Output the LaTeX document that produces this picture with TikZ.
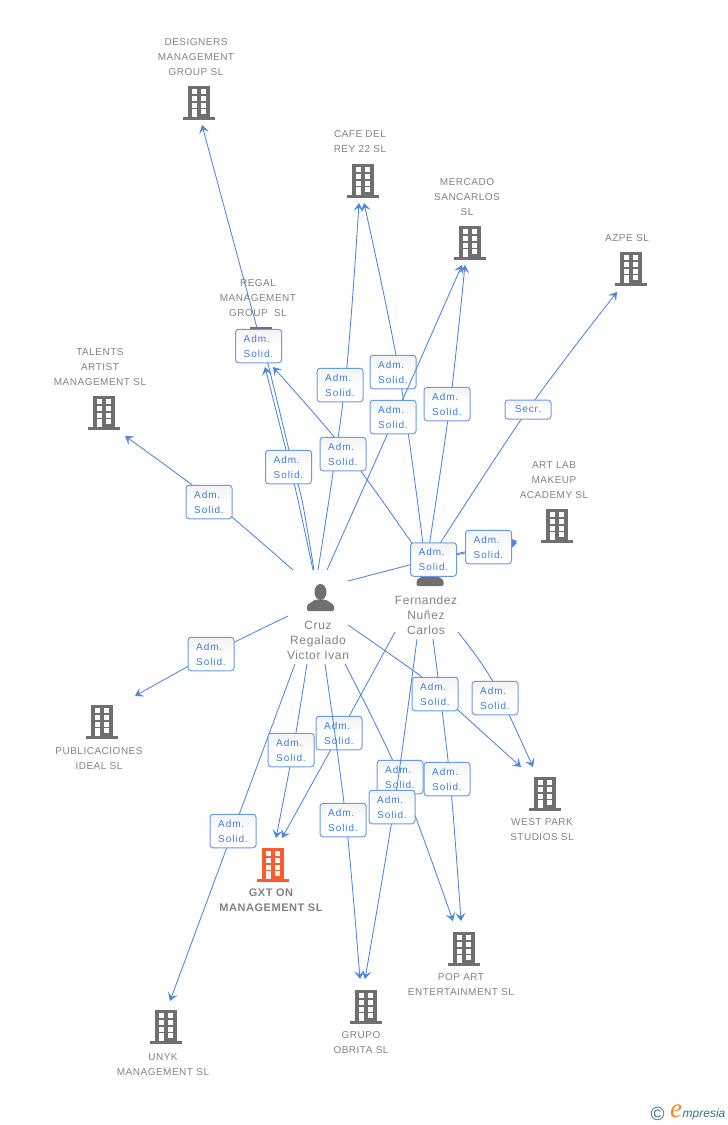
\documentclass[tikz,border=0pt]{standalone}
\usepackage{fontspec}
\setmainfont{Liberation Sans}
\newfontfamily\lsf[LetterSpace=5]{Liberation Sans}
\newfontfamily\bsf[LetterSpace=9]{Liberation Sans}
\newfontfamily\logoserif{Liberation Serif}
\usetikzlibrary{arrows.meta}
\definecolor{lnkc}{HTML}{4A86E0}
\definecolor{boxc}{HTML}{6A9BE6}
\definecolor{boxt}{HTML}{3B7DE0}
\definecolor{txtc}{HTML}{828282}
\definecolor{bldc}{HTML}{6F6F6F}
\definecolor{orng}{HTML}{FF5A2E}
\definecolor{logoo}{HTML}{F58220}
\definecolor{teal}{HTML}{2F7488}
\tikzset{
  x=1pt,y=-1pt,
  lnk/.style={draw=lnkc,line width=.85pt,-{Stealth[length=8pt,width=10pt,inset=3.5pt]}},
  adm/.style={draw=boxc,line width=1pt,rounded corners=3pt,top color=black!5,bottom color=white,middle color=white,
    minimum width=46pt,minimum height=33.5pt,inner sep=0pt,align=left,text=boxt,font=\bsf\fontsize{10}{15}\selectfont},
  lbl/.style={align=center,inner sep=0pt,text=txtc,font=\lsf\fontsize{10}{15}\selectfont},
  plbl/.style={align=center,inner sep=0pt,text=txtc,font=\lsf\fontsize{12}{15}\selectfont},
  mlbl/.style={align=center,inner sep=0pt,text=txtc,font=\lsf\bfseries\fontsize{11}{15}\selectfont},
}
% id, centre x, top y, colour
\newcommand{\bld}[4]{%
  \coordinate (#1) at (#2,#3);
  \fill[#4] ([shift={(-11,0)}]#1) rectangle ([shift={(11,31)}]#1);
  \fill[#4] ([shift={(-16,31)}]#1) rectangle ([shift={(16,34)}]#1);
  \foreach \yy in {3,10,17}{
    \fill[white] ([shift={(-7,\yy)}]#1) rectangle ([shift={(-2,\yy+5)}]#1);
    \fill[white] ([shift={(2,\yy)}]#1) rectangle ([shift={(7,\yy+5)}]#1);
  }
  \fill[white] ([shift={(-7,23)}]#1) rectangle ([shift={(-2,31)}]#1);
  \fill[white] ([shift={(2,23)}]#1) rectangle ([shift={(7,28)}]#1);
}
% id, head centre x, head centre y
\newcommand{\person}[3]{%
  \coordinate (#1) at (#2,#3);
  \fill[bldc] (#1) ellipse[x radius=6pt,y radius=8pt];
  \fill[bldc,rounded corners=1.5pt] ([shift={(-13.5,19)}]#1) -- ([shift={(-13.5,13)}]#1) -- ([shift={(-5,7.5)}]#1) -- ([shift={(5,7.5)}]#1) -- ([shift={(13.5,13)}]#1) -- ([shift={(13.5,19)}]#1) -- cycle;
}
% id, box centre, start, point of the line under the box, tip
\newcommand{\lnkbox}[5]{%
  \coordinate (b#1) at (#2);
  \coordinate (s#1) at (#3);
  \coordinate (w#1) at (#4);
  \coordinate (t#1) at (#5);
  \draw[lnk] plot[smooth,tension=.55] coordinates {(s#1) (w#1) (t#1)};
  \node[adm] (B#1) at (b#1) {Adm.\\Solid.};
}
\begin{document}
\begin{tikzpicture}
\useasboundingbox (0,0) rectangle (728,1125);
% buildings
\bld{designers}{199}{86}{bldc}
\bld{cafe}{363}{164}{bldc}
\bld{mercado}{470}{226}{bldc}
\bld{azpe}{631}{252}{bldc}
\bld{regal}{261}{327}{bldc}
\bld{talents}{104}{396}{bldc}
\bld{artlab}{557}{509}{bldc}
\bld{public}{102}{705}{bldc}
\bld{westpark}{545}{777}{bldc}
\bld{gxt}{273}{848}{orng}
\bld{popart}{464}{932}{bldc}
\bld{grupo}{366}{990}{bldc}
\bld{unyk}{166}{1010}{bldc}
\person{cruz}{320.5}{592}
\person{fern}{430}{567}
% labels
\node[lbl] (Ldes) at (196,57) {DESIGNERS\\MANAGEMENT\\GROUP SL};
\node[lbl] (Lcaf) at (360,141.5) {CAFE DEL\\REY 22 SL};
\node[lbl] (Lmer) at (467,197) {MERCADO\\SANCARLOS\\SL};
\node[lbl] (Lazp) at (627,238) {AZPE SL};
\node[lbl] (Lreg) at (258,298) {REGAL\\MANAGEMENT\\GROUP\ \ SL};
\node[lbl] (Ltal) at (100,367) {TALENTS\\ARTIST\\MANAGEMENT SL};
\node[lbl] (Lart) at (554,480) {ART LAB\\MAKEUP\\ACADEMY SL};
\node[lbl] (Lpub) at (99,758.5) {PUBLICACIONES\\IDEAL SL};
\node[lbl] (Lwes) at (542,829.5) {WEST PARK\\STUDIOS SL};
\node[mlbl] (Lgxt) at (271,900.5) {GXT ON\\MANAGEMENT SL};
\node[lbl] (Lpop) at (461,984.5) {POP ART\\ENTERTAINMENT SL};
\node[lbl] (Lgru) at (361,1042.5) {GRUPO\\OBRITA SL};
\node[lbl] (Luny) at (163,1064.5) {UNYK\\MANAGEMENT SL};
\node[plbl] (Lcru) at (318,640) {Cruz\\Regalado\\Victor Ivan};
\node[plbl] (Lfer) at (426,615) {Fernandez\\Nuñez\\Carlos};
% connectors
\lnkbox{a}{209,502}{293,570}{209,498}{125,436}
% Cruz -> Regal (through box 288,467)
\coordinate (p1) at (313,570); \coordinate (p2) at (298,500); \coordinate (p3) at (286,450); \coordinate (p4) at (265,367);
\draw[lnk] plot[smooth,tension=.4] coordinates {(p1) (p2) (p3) (p4)};
% Cruz -> Designers
\coordinate (q1) at (314,570); \coordinate (q2) at (302,500); \coordinate (q3) at (289,450); \coordinate (q4) at (268,364); \coordinate (q5) at (257,328); \coordinate (q6) at (202,125);
\draw[lnk] plot[smooth,tension=.4] coordinates {(q1) (q2) (q3) (q4) (q5) (q6)};
\node[adm] (Bg) at (258.5,346) {Adm.\\Solid.};
\node[adm] (Bh) at (288.5,467) {Adm.\\Solid.};
\lnkbox{c}{340,385}{318,570}{345,385}{359,203}
\lnkbox{e}{393,372}{425,560}{399,372}{364,203}
\lnkbox{d}{393,417}{327,570}{395,417}{462,265}
\lnkbox{f}{447,404}{427,560}{450,404}{465,265}
\coordinate (s7) at (430,559); \coordinate (t7) at (617,292); \coordinate (b7) at (528,409.5);
\draw[lnk] plot[smooth,tension=.55] coordinates {(s7) (b7) (t7)};
\node[adm,minimum height=19pt] (B7) at (b7) {Secr.};
\lnkbox{h}{343,454}{425,562}{348,454}{273,367}
% Cruz -> Art Lab via two boxes
\coordinate (u1) at (348,581); \coordinate (u2) at (433,559); \coordinate (u3) at (488,547); \coordinate (u4) at (517,541);
\draw[lnk] plot[smooth,tension=.4] coordinates {(u1) (u2) (u3) (u4)};
\coordinate (v1) at (440,558); \coordinate (v2) at (517,543);
\draw[lnk] (v1) -- (v2);
\node[adm] (Bi) at (433.5,559.5) {Adm.\\Solid.};
\node[adm] (Bj) at (488.5,547) {Adm.\\Solid.};
% lower half
\lnkbox{k}{211,654}{288,616}{211,654}{135,696}
\lnkbox{l}{233,831}{295,664}{233,831}{170,1001}
\lnkbox{m}{291,750}{307,664}{293,750}{276,838}
\lnkbox{o}{339,733}{395,632}{340,733}{282,838}
\lnkbox{n}{343,820}{325,664}{346,820}{360,979}
\lnkbox{p}{400,777}{345,664}{400,777}{453,921}
\lnkbox{q}{392,807}{417,639}{394,807}{365,979}
\lnkbox{r}{447,779}{433,639}{450,779}{461,921}
% Cruz -> West Park
\coordinate (x1) at (348,625); \coordinate (x2) at (422,677); \coordinate (x3) at (458,710); \coordinate (x4) at (521,767);
\draw[lnk] plot[smooth,tension=.4] coordinates {(x1) (x2) (x3) (x4)};
\node[adm] (Bs) at (435,694) {Adm.\\Solid.};
% Fernandez -> West Park
\coordinate (y1) at (458,632); \coordinate (y2) at (492,680); \coordinate (y3) at (533,767);
\draw[lnk] plot[smooth,tension=.5] coordinates {(y1) (y2) (y3)};
\node[adm] (Bw) at (495,698) {Adm.\\Solid.};
% logo
\node[inner sep=0pt,text=teal,font=\fontsize{19}{19}\selectfont] (logoc) at (657.5,1114) {©};
\node[inner sep=0pt,text=logoo,font=\logoserif\itshape\fontsize{27}{27}\selectfont] (logoe) at (676,1111) {e};
\node[inner sep=0pt,text=teal,font=\itshape\fontsize{12}{12}\selectfont,anchor=west] (logot) at (682.5,1114) {mpresia};
\end{tikzpicture}
\end{document}
